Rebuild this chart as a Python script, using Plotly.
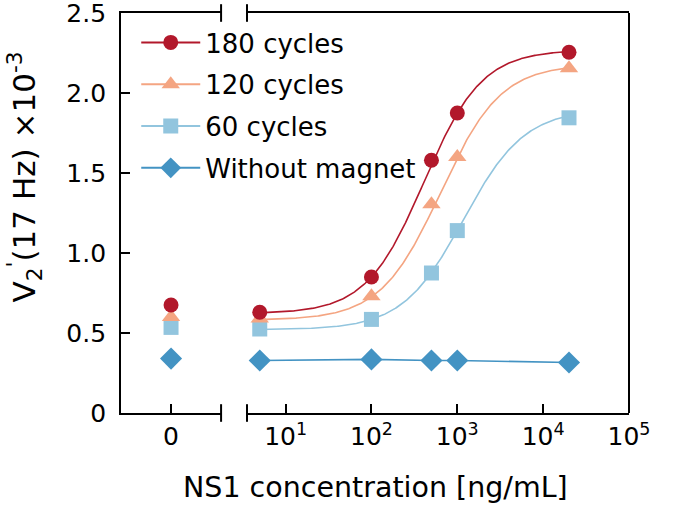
import numpy as np
import plotly.graph_objects as go

# ---- data ----
series_names = ["180 cycles", "120 cycles", "60 cycles", "Without magnet"]
conc = [5, 100, 500, 1000, 20000]          # ng/mL (log part)
zero_x = [0]                                # the "0" concentration
v_180 = [0.63, 0.85, 1.58, 1.875, 2.255]
v_120 = [0.59, 0.73, 1.305, 1.60, 2.155]
v_60 = [0.525, 0.585, 0.875, 1.14, 1.845]
v_nomag = [0.328, 0.335, 0.328, 0.328, 0.316]
zero_vals = [0.675, 0.60, 0.535, 0.34]     # 180, 120, 60, without magnet at 0

# 4-parameter logistic fit parameters: bottom, top, EC50, hill
fit_180 = [0.62, 2.27, 410, 1.29]
fit_120 = [0.58, 2.18, 640, 1.24]
fit_60 = [0.52, 1.90, 1180, 1.22]

y_ticks = [0, 0.5, 1.0, 1.5, 2.0, 2.5]
y_ticktext = ["0", "0.5", "1.0", "1.5", "2.0", "2.5"]
x_ticks = [10, 100, 1000, 10000, 100000]
x_ticktext = ["10<sup>1</sup>", "10<sup>2</sup>", "10<sup>3</sup>", "10<sup>4</sup>", "10<sup>5</sup>"]

colors = ["#b2182b", "#f4a582", "#92c5de", "#4393c3"]
symbols = ["circle", "triangle-up", "square", "diamond"]
msizes = [15, 16, 15, 17]

FONT = "DejaVu Sans, Arial, sans-serif"


def logistic(x, p):
    b, t, ec, h = p
    x = np.asarray(x, dtype=float)
    return b + (t - b) / (1.0 + (ec / x) ** h)


fig = go.Figure()

xs = np.logspace(np.log10(conc[0]), np.log10(conc[-1]), 300)
fits = [fit_180, fit_120, fit_60]
data_vals = [v_180, v_120, v_60, v_nomag]

# fitted curves
for i, p in enumerate(fits):
    fig.add_trace(go.Scatter(x=xs, y=logistic(xs, p), mode="lines", xaxis="x2", yaxis="y",
                             line=dict(color=colors[i], width=1.6), showlegend=False,
                             hoverinfo="skip"))
# without magnet: straight segments
fig.add_trace(go.Scatter(x=conc, y=v_nomag, mode="lines", xaxis="x2", yaxis="y",
                         line=dict(color=colors[3], width=1.6), showlegend=False))

# markers (back to front so 180 cycles is on top)
for i in [3, 2, 1, 0]:
    fig.add_trace(go.Scatter(x=conc, y=data_vals[i], mode="markers", xaxis="x2", yaxis="y",
                             marker=dict(color=colors[i], symbol=symbols[i], size=msizes[i]),
                             showlegend=False))
    fig.add_trace(go.Scatter(x=zero_x, y=[zero_vals[i]], mode="markers", xaxis="x", yaxis="y",
                             marker=dict(color=colors[i], symbol=symbols[i], size=msizes[i]),
                             showlegend=False))

# legend entries
for i in range(4):
    fig.add_trace(go.Scatter(x=[None], y=[None], mode="lines+markers", name=series_names[i],
                             xaxis="x2", yaxis="y",
                             line=dict(color=colors[i], width=2),
                             marker=dict(color=colors[i], symbol=symbols[i], size=msizes[i]),
                             legendgroup=str(i)))

axis_line = dict(showline=True, linecolor="black", linewidth=2, ticks="inside",
                 tickcolor="black", tickwidth=2, ticklen=9, showgrid=False, zeroline=False,
                 ticklabeloverflow="allow", automargin=False)

brk = dict(color="black", width=2)

fig.update_layout(
    width=675, height=506,
    margin=dict(l=121, r=46, t=13, b=93),
    paper_bgcolor="white", plot_bgcolor="white",
    font=dict(family=FONT, color="black"),
    xaxis=dict(domain=[0, 0.197], range=[-1, 1], tickvals=[0], ticktext=["0"],
               anchor="y", mirror=True, tickfont=dict(size=25), **axis_line),
    xaxis2=dict(domain=[0.248, 1], type="log", range=[np.log10(3.55), 5], tickvals=x_ticks,
                ticktext=x_ticktext, anchor="y", mirror=True, tickfont=dict(size=25),
                **axis_line),
    yaxis=dict(range=[0, 2.5], tickvals=y_ticks, ticktext=[t + " " for t in y_ticktext],
               anchor="x", tickfont=dict(size=25), **axis_line),
    legend=dict(x=0.03, y=0.985, xanchor="left", yanchor="top", font=dict(size=26),
                bgcolor="rgba(0,0,0,0)", tracegroupgap=5, itemwidth=59),
    annotations=[
        dict(text="NS1 concentration [ng/mL]", xref="paper", yref="paper",
             x=0.5, y=-0.187, xanchor="center", yanchor="middle", showarrow=False,
             font=dict(size=28.5)),
        dict(text="V<sub>2</sub><sup>'</sup>(17 Hz) ×10<sup>-3</sup>", xref="paper", yref="paper",
             x=-0.19, y=0.59, xanchor="center", yanchor="middle", showarrow=False,
             textangle=-90, font=dict(size=31)),
    ],
    shapes=[
        # right spine
        dict(type="line", xref="paper", yref="paper", x0=1, x1=1, y0=0, y1=1, line=brk),
        # axis break marks, bottom and top
        dict(type="line", xref="paper", yref="paper", x0=0.197, x1=0.197, y0=-0.022, y1=0.022, line=brk),
        dict(type="line", xref="paper", yref="paper", x0=0.248, x1=0.248, y0=-0.022, y1=0.022, line=brk),
        dict(type="line", xref="paper", yref="paper", x0=0.197, x1=0.197, y0=0.978, y1=1.022, line=brk),
        dict(type="line", xref="paper", yref="paper", x0=0.248, x1=0.248, y0=0.978, y1=1.022, line=brk),
    ],
)

fig.write_html("out.html", config={"displayModeBar": False},
               post_script="document.body.style.margin='0';")
